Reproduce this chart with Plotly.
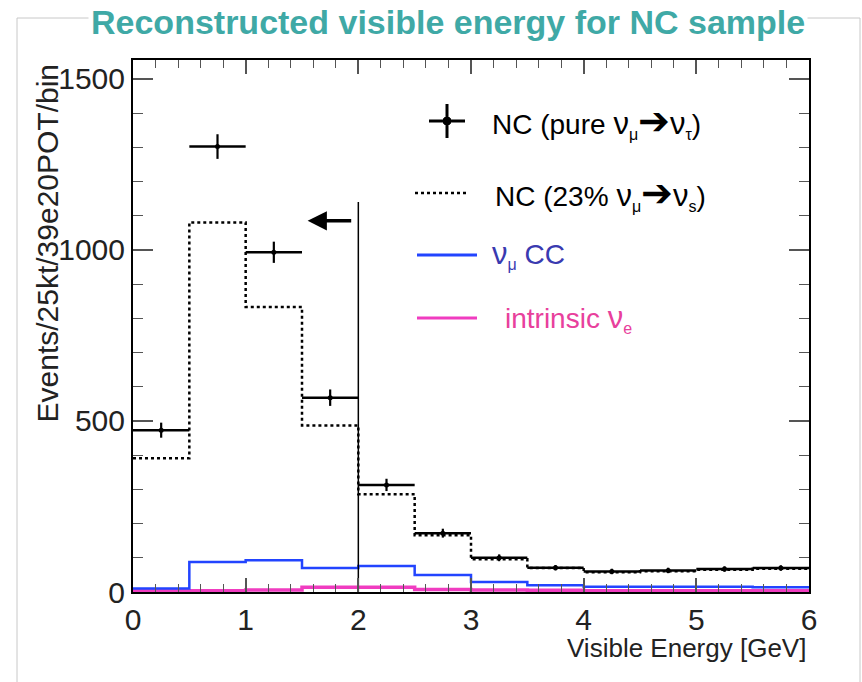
import plotly.graph_objects as go

# ---------------- data ----------------
bin_edges = [0.0, 0.5, 1.0, 1.5, 2.0, 2.5, 3.0, 3.5, 4.0, 4.5, 5.0, 5.5, 6.0]
bin_centers = [0.25, 0.75, 1.25, 1.75, 2.25, 2.75, 3.25, 3.75, 4.25, 4.75, 5.25, 5.75]
nc_pure = [473, 1302, 993, 568, 313, 172, 100, 71, 60, 63, 67, 70]
nc_pure_err = [22, 36, 31, 24, 18, 13, 10, 8, 8, 8, 8, 8]
nc_sterile = [391, 1080, 833, 487, 286, 166, 96, 70, 58, 61, 65, 68]
numu_cc = [10, 88, 93, 70, 76, 50, 29, 20, 15, 15, 15, 14]
intrinsic_nue = [4, 4, 6, 14, 14, 7, 6, 5, 4, 4, 4, 4]
half_width = [0.25] * 12
cut_energy = 2.0
cut_top = 1140
arrow_y = 1085
arrow_from = 1.95
arrow_to = 1.55

x_ticks = [0, 1, 2, 3, 4, 5, 6]
y_ticks = [0, 500, 1000, 1500]

# ---------------- layout geometry (pixels) ----------------
W, H = 862, 682
L, R, T, B = 133, 809, 60, 592


def px(x):
    return (x - L) / (R - L)


def py(y):
    return (B - y) / (B - T)


FONT = "Liberation Sans, Arial, Helvetica, sans-serif"

fig = go.Figure()


def step_xy(vals):
    return bin_edges, list(vals) + [vals[-1]]


sx, sy = step_xy(intrinsic_nue)
fig.add_trace(go.Scatter(x=sx, y=sy, mode="lines", line_shape="hv",
                         line=dict(color="#f03cc0", width=3.5), showlegend=False))
sx, sy = step_xy(numu_cc)
fig.add_trace(go.Scatter(x=sx, y=sy, mode="lines", line_shape="hv",
                         line=dict(color="#2244ff", width=2.5), showlegend=False))
sx, sy = step_xy(nc_sterile)
fig.add_trace(go.Scatter(x=sx, y=sy, mode="lines", line_shape="hv",
                         line=dict(color="black", width=2.5, dash="dot"), showlegend=False))
fig.add_trace(go.Scatter(
    x=bin_centers, y=nc_pure, mode="markers",
    marker=dict(color="black", size=5),
    error_x=dict(type="data", array=half_width, color="black", thickness=2.5, width=0),
    error_y=dict(type="data", array=nc_pure_err, color="black", thickness=2.2, width=0),
    showlegend=False))

# cut line and arrow
fig.add_trace(go.Scatter(x=[cut_energy, cut_energy], y=[-15, cut_top], mode="lines",
                         line=dict(color="black", width=1.5), showlegend=False,
                         cliponaxis=False))
fig.add_annotation(x=arrow_to, y=arrow_y, ax=arrow_from, ay=arrow_y,
                   xref="x", yref="y", axref="x", ayref="y",
                   showarrow=True, arrowhead=2, arrowsize=1.1, arrowwidth=3.5,
                   arrowcolor="black", text="")

shapes = []
# slide-like grey frame
shapes.append(dict(type="line", xref="paper", yref="paper",
                   x0=px(17), x1=px(17), y0=py(18), y1=py(700),
                   line=dict(color="#c8c8c8", width=1)))
shapes.append(dict(type="line", xref="paper", yref="paper",
                   x0=px(860), x1=px(860), y0=py(18), y1=py(700),
                   line=dict(color="#c8c8c8", width=1)))
shapes.append(dict(type="line", xref="paper", yref="paper",
                   x0=px(17), x1=px(860), y0=py(18), y1=py(18),
                   line=dict(color="#c8c8c8", width=1)))

# legend symbols
leg_rows = [121, 193, 255, 318]
shapes.append(dict(type="line", xref="paper", yref="paper",
                   x0=px(429), x1=px(465), y0=py(leg_rows[0]), y1=py(leg_rows[0]),
                   line=dict(color="black", width=3)))
shapes.append(dict(type="line", xref="paper", yref="paper",
                   x0=px(447), x1=px(447), y0=py(leg_rows[0] - 17), y1=py(leg_rows[0] + 17),
                   line=dict(color="black", width=3)))
shapes.append(dict(type="circle", xref="paper", yref="paper",
                   x0=px(443), x1=px(451), y0=py(leg_rows[0] - 4), y1=py(leg_rows[0] + 4),
                   fillcolor="black", line=dict(color="black", width=1)))
shapes.append(dict(type="line", xref="paper", yref="paper",
                   x0=px(415), x1=px(469), y0=py(leg_rows[1]), y1=py(leg_rows[1]),
                   line=dict(color="black", width=2.5, dash="dot")))
shapes.append(dict(type="line", xref="paper", yref="paper",
                   x0=px(417), x1=px(477), y0=py(leg_rows[2]), y1=py(leg_rows[2]),
                   line=dict(color="#2244ff", width=3)))
shapes.append(dict(type="line", xref="paper", yref="paper",
                   x0=px(417), x1=px(477), y0=py(leg_rows[3]), y1=py(leg_rows[3]),
                   line=dict(color="#f03cc0", width=3)))
fig.update_layout(shapes=shapes)

NU = "<span style='font-size:31px'>ν</span>"
ARR = "<span style='font-family:DejaVu Sans;font-size:38px'>➔</span>"
SUB = "<sub><span style='font-size:16px'>{}</span></sub>"
leg_texts = [
    ("NC (pure " + NU + SUB.format("μ") + ARR + NU + SUB.format("τ") + ")", "black", 490),
    ("NC (23% " + NU + SUB.format("μ") + ARR + NU + SUB.format("s") + ")", "black", 493),
    (NU + SUB.format("μ") + " CC", "#3a3ab0", 490),
    ("intrinsic " + NU + SUB.format("e"), "#e8409c", 503),
]
for (txt, col, x0), yrow in zip(leg_texts, leg_rows):
    fig.add_annotation(x=px(x0), y=py(yrow), xref="paper", yref="paper",
                       text=txt, showarrow=False, xanchor="left", yanchor="middle",
                       font=dict(family=FONT, size=28, color=col))

# title
fig.add_annotation(x=px(448), y=py(22), xref="paper", yref="paper",
                   text="<b>Reconstructed visible energy for NC sample</b>",
                   showarrow=False, xanchor="center", yanchor="middle",
                   bgcolor="white", borderpad=2,
                   font=dict(family=FONT, size=34, color="#3fa9a6"))

# axis titles
fig.add_annotation(x=px(808), y=py(648), xref="paper", yref="paper",
                   text="Visible Energy [GeV]", showarrow=False,
                   xanchor="right", yanchor="middle",
                   font=dict(family=FONT, size=26, color="#222"))
fig.add_annotation(x=px(47), y=py(62), xref="paper", yref="paper",
                   text="Events/25kt/39e20POT/bin", showarrow=False, textangle=-90,
                   xanchor="center", yanchor="top",
                   font=dict(family=FONT, size=30, color="#222"))

fig.update_layout(
    width=W, height=H,
    margin=dict(l=L, r=W - R, t=T, b=H - B),
    paper_bgcolor="white", plot_bgcolor="white",
    font=dict(family=FONT, color="#222"),
    showlegend=False,
)
fig.update_xaxes(range=[0, 6], tickvals=x_ticks, ticktext=[str(v) for v in x_ticks],
                 showgrid=False, zeroline=False, showline=True, linecolor="black",
                 linewidth=2, mirror="ticks", ticks="inside", ticklen=14, tickwidth=1.5,
                 tickcolor="#555", tickfont=dict(size=30, family=FONT, color="#222"),
                 minor=dict(dtick=0.2, ticks="inside", ticklen=8, tickwidth=1.2,
                            tickcolor="#555", showgrid=False))
fig.update_yaxes(range=[0, 1555], tickvals=y_ticks, ticktext=[str(v) for v in y_ticks],
                 showgrid=False, zeroline=False, showline=True, linecolor="black",
                 linewidth=2, mirror="ticks", ticks="inside", ticklen=20, tickwidth=1.5,
                 tickcolor="#555", tickfont=dict(size=30, family=FONT, color="#222"),
                 minor=dict(dtick=100, ticks="inside", ticklen=10, tickwidth=1.2,
                            tickcolor="#555", showgrid=False))

fig.write_html("out.html")
